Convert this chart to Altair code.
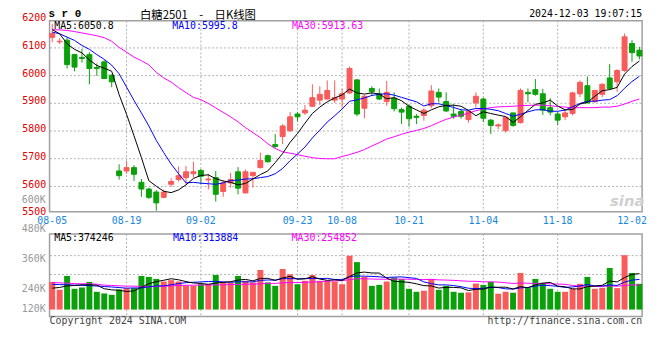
import altair as alt
import pandas as pd

dates = ["08-05","08-06","08-07","08-08","08-09","08-12","08-13","08-14","08-15","08-16",
         "08-19","08-20","08-21","08-22","08-23","08-26","08-27","08-28","08-29","08-30",
         "09-02","09-03","09-04","09-05","09-06","09-09","09-10","09-11","09-12","09-13",
         "09-18","09-19","09-20","09-23","09-24","09-25","09-26","09-27","09-30",
         "10-08","10-09","10-10","10-11","10-14","10-15","10-16","10-17","10-18",
         "10-21","10-22","10-23","10-24","10-25","10-28","10-29","10-30","10-31",
         "11-01","11-04","11-05","11-06","11-07","11-08","11-11","11-12","11-13","11-14","11-15",
         "11-18","11-19","11-20","11-21","11-22","11-25","11-26","11-27","11-28","11-29",
         "12-02","12-03"]

opens = [6136,6120,6126,6074,6064,6074,6028,6048,6000,5655,
         5655,5667,5614,5590,5579,5560,5607,5624,5631,5645,
         5657,5623,5631,5581,5612,5652,5576,5638,5667,5710,
         5750,5779,5800,5860,5864,5888,5910,5914,5910,5914,
         5936,5983,5881,5952,5933,5905,5917,5876,5888,5852,
         5855,5890,5938,5905,5860,5869,5840,5900,5914,5838,
         5817,5800,5864,5829,5938,5948,5933,5883,5860,5850,
         5862,5933,5962,5905,5931,5990,5976,6017,6114,6090]
highs = [6185,6133,6137,6077,6095,6083,6042,6054,6002,5679,
         5690,5676,5626,5595,5586,5588,5629,5671,5673,5688,
         5662,5645,5655,5621,5648,5669,5660,5652,5721,5714,
         5788,5824,5867,5867,5893,5967,5960,5981,5981,5950,
         6031,5986,5929,5960,5952,5979,5938,5883,5895,5860,
         5881,5964,5952,5938,5895,5879,5874,5938,5919,5843,
         5826,5850,5864,5952,5952,5986,5950,5917,5869,5874,
         5940,5981,5995,5945,5971,6040,6021,6150,6126,6102]
lows = [6119,6112,6024,6014,6045,5967,5998,5986,5957,5624,
        5645,5619,5562,5554,5512,5557,5598,5617,5607,5631,
        5607,5588,5545,5562,5595,5571,5574,5595,5664,5686,
        5736,5752,5795,5833,5857,5886,5893,5912,5900,5883,
        5933,5852,5845,5926,5910,5890,5869,5824,5814,5824,
        5836,5881,5902,5867,5843,5843,5829,5883,5831,5788,
        5805,5793,5814,5826,5902,5926,5857,5855,5821,5838,
        5855,5921,5900,5900,5921,5948,5940,6012,6048,6057]
closes = [6150,6122,6038,6029,6060,6024,6024,5988,5976,5638,
          5667,5643,5590,5560,5540,5579,5617,5638,5652,5652,
          5636,5626,5571,5612,5624,5593,5652,5650,5693,5688,
          5743,5817,5850,5850,5874,5919,5931,5945,5919,5933,
          6024,5860,5924,5940,5914,5938,5879,5867,5843,5848,
          5874,5943,5921,5871,5852,5852,5869,5924,5845,5819,
          5821,5848,5819,5945,5933,5931,5874,5867,5838,5864,
          5936,5974,5900,5945,5967,5952,6017,6138,6081,6069]

ma5 = [6164,6149,6113,6093,6080,6055,6035,6025,6014,5930,
       5859,5782,5703,5620,5600,5582,5577,5587,5605,5628,
       5639,5641,5627,5619,5614,5605,5610,5626,5642,5655,
       5685,5718,5758,5790,5827,5862,5885,5904,5918,5929,
       5950,5936,5932,5936,5932,5915,5919,5908,5888,5875,
       5862,5875,5886,5891,5892,5888,5873,5854,5868,5862,
       5856,5851,5830,5850,5873,5895,5900,5910,5889,5875,
       5876,5896,5902,5924,5944,5948,5956,6004,6031,6051]
ma10 = [6155,6149,6137,6125,6107,6093,6074,6057,6036,6005,
        5957,5909,5864,5817,5765,5721,5680,5645,5612,5614,
        5611,5609,5607,5612,5621,5622,5626,5627,5631,5635,
        5645,5664,5692,5716,5741,5774,5802,5831,5854,5878,
        5906,5911,5918,5927,5931,5933,5928,5920,5912,5904,
        5889,5897,5897,5890,5884,5875,5874,5880,5880,5877,
        5872,5862,5852,5859,5868,5875,5876,5870,5870,5874,
        5886,5898,5906,5906,5910,5912,5926,5953,5977,5996]
ma30 = [6164,6163,6161,6157,6152,6147,6142,6135,6122,6100,
        6083,6065,6052,6037,6010,5990,5975,5955,5937,5920,
        5912,5898,5882,5866,5850,5832,5811,5793,5775,5753,
        5736,5724,5719,5714,5708,5703,5700,5699,5699,5707,
        5714,5722,5732,5745,5757,5770,5778,5787,5795,5801,
        5808,5818,5830,5841,5849,5856,5863,5872,5878,5883,
        5886,5887,5888,5890,5891,5892,5892,5890,5887,5885,
        5882,5883,5883,5883,5885,5885,5888,5896,5906,5914]

# volume, in thousands
volumes = [288,206,350,216,230,288,185,168,154,209,
           223,223,350,340,319,292,306,292,247,247,
           264,264,360,285,278,350,299,282,412,282,
           247,422,367,264,299,360,299,299,292,264,
           560,494,340,247,257,292,333,316,216,185,
           196,319,206,247,185,175,179,271,257,288,
           165,185,175,381,223,319,278,216,185,185,
           216,268,340,216,227,433,223,566,381,268]
vol_ma5 = [223,230,247,250,258,258,254,217,205,201,
           188,195,232,269,291,305,321,310,291,277,
           271,263,276,284,290,307,314,299,324,325,
           304,329,346,316,320,342,318,304,310,303,
           343,382,390,381,380,326,294,289,283,268,
           249,246,224,231,231,226,198,211,213,234,
           232,233,214,239,226,257,275,283,244,237,
           216,214,239,245,253,297,288,333,366,374]
vol_ma10 = [262,260,258,255,252,250,245,240,235,229,
            223,225,225,237,246,246,258,271,280,284,
            288,292,293,288,284,289,289,288,304,308,
            306,322,322,320,322,323,323,325,313,311,
            343,350,347,345,341,334,338,340,332,324,
            288,270,257,257,250,238,222,218,222,232,
            229,216,213,226,230,244,254,249,242,231,
            236,245,261,245,245,256,251,286,306,314]
vol_ma30 = [282,278,275,271,268,268,264,254,251,247,
            244,244,240,237,240,244,247,251,252,254,
            254,257,257,257,261,261,264,264,268,274,
            272,279,280,282,284,286,290,295,299,301,
            312,321,321,318,316,316,317,317,316,314,
            312,314,309,307,304,299,295,294,289,289,
            286,279,272,276,274,272,271,269,265,263,
            251,244,244,242,241,246,243,251,256,255]

label_dates = ["08-05","08-19","09-02","09-23","10-08","10-21","11-04","11-18","12-02"]
grid_dates = ["08-19","09-02","09-23","10-08","10-21","11-04","11-18"]
price_ticks = [5500,5600,5700,5800,5900,6000,6100,6200]
vol_grid = [368,566]
vol_label_values = [600,480,360,240,120]
vol_label_text = ["600K","480K","360K","240K","120K"]

# ---- styles / layout (plot-area pixel units) ----
W, H = 599, 299
P_TOP, P_BOT = 0, 193
V_TOP, V_BOT = 215.7, 299
MONO = "DejaVu Sans Mono"
UP, DOWN = "#F95A5A", "#0AA00A"
GRID = "#B0B0B0"
BOX = "#A0A0A0"
BLUE_LBL = "#1787E0"

df = pd.DataFrame({
    "d": dates, "o": opens, "h": highs, "l": lows, "c": closes,
    "ma5": ma5, "ma10": ma10, "ma30": ma30,
    "v": volumes, "vma5": vol_ma5, "vma10": vol_ma10, "vma30": vol_ma30,
})
df["dir"] = ["up" if c >= o else "down" for o, c in zip(opens, closes)]

xs = alt.Scale(type="point", domain=dates, padding=0.36)
X = alt.X("d:N", scale=xs, axis=None)
color_enc = alt.Color("dir:N", scale=alt.Scale(domain=["up", "down"], range=[UP, DOWN]), legend=None)
stroke_enc = alt.Stroke("dir:N", scale=alt.Scale(domain=["up", "down"], range=[UP, DOWN]), legend=None)

pscale = alt.Scale(domain=[5500, 6200], range=[195.4, -1.1], nice=False, zero=False)
paxis = alt.Axis(values=price_ticks, format="d", orient="left", title=None, domain=False, ticks=False, tickSize=0,
                 labelPadding=4, labelColor="#E00000", labelFont=MONO, labelFontSize=10,
                 labelFlush=False, labelOverlap=False, labelOffset=-2,
                 grid=True, gridColor=GRID, gridDash=[2, 2], gridWidth=1,
                 gridOpacity={"condition": {"test": "datum.value <= 5500 || datum.value >= 6200", "value": 0}, "value": 1})

vscale = alt.Scale(domain=[0, 800], range=[292, 214.3], nice=False, zero=True)
vaxis = alt.Axis(values=vol_grid, orient="left", title=None, domain=False, ticks=False, labels=False,
                 grid=True, gridColor=GRID, gridDash=[2, 2], gridWidth=1)

base = alt.Chart(df)

def py(f):
    return alt.Y(f, scale=pscale, axis=paxis)

def vy(f):
    return alt.Y(f, scale=vscale, axis=vaxis)

grid_df = pd.DataFrame({"d": grid_dates})
vgrid_p = alt.Chart(grid_df).mark_rule(color=GRID, strokeDash=[2, 2], strokeWidth=1).encode(
    x=X, y=alt.value(P_TOP), y2=alt.value(P_BOT))
wick = base.mark_rule(strokeWidth=1).encode(x=X, y=py("l:Q"), y2="h:Q", color=color_enc)
body = base.mark_bar(size=5, strokeWidth=1).encode(x=X, y=py("o:Q"), y2="c:Q", color=color_enc, stroke=stroke_enc)
l5 = base.mark_line(color="black", strokeWidth=1).encode(x=X, y=py("ma5:Q"))
l10 = base.mark_line(color="#0000FF", strokeWidth=1).encode(x=X, y=py("ma10:Q"))
l30 = base.mark_line(color="#FF00FF", strokeWidth=1).encode(x=X, y=py("ma30:Q"))
price = alt.layer(vgrid_p, wick, body, l30, l10, l5)

vgrid_v = alt.Chart(grid_df).mark_rule(color=GRID, strokeDash=[2, 2], strokeWidth=1).encode(
    x=X, y=alt.value(V_TOP), y2=alt.value(V_BOT))
vbars = base.mark_bar(size=6).encode(x=X, y=vy("v:Q"), color=color_enc)
vl5 = base.mark_line(color="black", strokeWidth=1).encode(x=X, y=vy("vma5:Q"))
vl10 = base.mark_line(color="#0000FF", strokeWidth=1).encode(x=X, y=vy("vma10:Q"))
vl30 = base.mark_line(color="#FF00FF", strokeWidth=1).encode(x=X, y=vy("vma30:Q"))
vol = alt.layer(vgrid_v, vbars, vl30, vl10, vl5)

vlab = alt.Chart(pd.DataFrame({"v": vol_label_values, "t": vol_label_text})).mark_text(
    align="right", baseline="middle", font=MONO, fontSize=10, color="#999999").encode(
    x=alt.value(-4),
    y=alt.Y("v:Q", scale=alt.Scale(domain=[160, 600], range=[291, 181], clamp=True, nice=False, zero=False), axis=None),
    text="t:N")

xlab = alt.Chart(pd.DataFrame({"d": label_dates})).mark_text(
    align="center", baseline="middle", font=MONO, fontSize=10, color=BLUE_LBL).encode(
    x=X, y=alt.value(203), text="d:N")

def box(y0, y1):
    return alt.Chart(pd.DataFrame({"k": [0]})).mark_rect(fillOpacity=0, stroke=BOX, strokeWidth=1.5).encode(
        x=alt.value(0), x2=alt.value(W), y=alt.value(y0), y2=alt.value(y1))

def txt(t, x, y, color="black", align="left", size=10, font=MONO, weight="normal", style="normal"):
    return alt.Chart(pd.DataFrame({"t": [t]})).mark_text(
        align=align, baseline="middle", color=color, fontSize=size, font=font,
        fontWeight=weight, fontStyle=style).encode(x=alt.value(x), y=alt.value(y), text="t:N")

texts = [
    txt("s r 0", -1, -6.3, size=11, font="Liberation Mono", weight="bold"),
    txt("白糖2501\u3000-\u3000日K线图", 150, -5.2, align="center", size=11.5, font="Noto Sans CJK SC"),
    txt("2024-12-03 19:07:15", W, -6.5, align="right"),
    txt("MA5:6050.8", 4.7, 5),
    txt("MA10:5995.8", 124, 5, color="#0000FF"),
    txt("MA30:5913.63", 245, 5, color="#FF00FF"),
    txt("MA5:374246", 4.7, 219.5),
    txt("MA10:313884", 124.7, 219.5, color="#0000FF"),
    txt("MA30:254852", 244.7, 219.5, color="#FF00FF"),
    txt("Copyright 2024 SINA.COM", 0, 304, color="#444444"),
    txt("http://finance.sina.com.cn", W, 304, color="#444444", align="right"),
    txt("sina", 584, 182, color="#CFCFCF", align="center", size=15, font="DejaVu Sans", weight="bold", style="italic"),
]

chart = alt.layer(
    box(P_TOP, P_BOT), box(V_TOP, V_BOT), price, vol, vlab, xlab, *texts
).resolve_scale(y="independent").properties(
    width=W, height=H,
    padding={"left": 42, "top": 11, "right": 10, "bottom": 30},
    autosize=alt.AutoSizeParams(type="none"),
    background="white",
).configure_view(strokeWidth=0)

chart.save("out.html", embed_options={"renderer": "svg", "actions": False})
